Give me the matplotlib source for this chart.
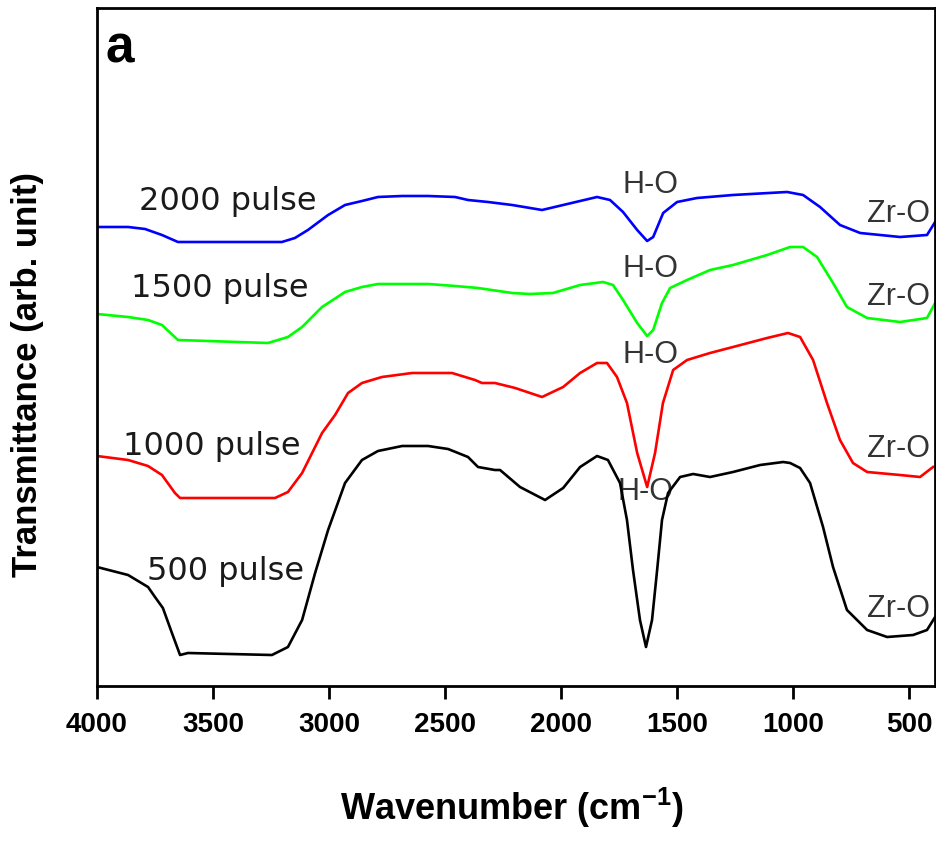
import matplotlib
matplotlib.use("Agg")
import matplotlib.pyplot as plt

plt.rcParams['font.family'] = ['Liberation Sans', 'DejaVu Sans']
plt.rcParams['mathtext.fontset'] = 'custom'
plt.rcParams['mathtext.rm'] = 'Liberation Sans'
plt.rcParams['mathtext.bf'] = 'Liberation Sans:bold'

# Wavenumber (cm-1) and transmittance (arb. units, vertically offset) per sample
wn_500 = [4000, 3866, 3780, 3750, 3716, 3677, 3642, 3608, 3246, 3177, 3116, 3060, 3004,
          2931, 2858, 2789, 2685, 2573, 2487, 2401, 2358, 2285, 2263, 2177, 2069, 1991,
          1918, 1845, 1798, 1746, 1716, 1690, 1660, 1634, 1608, 1586, 1565, 1539, 1487,
          1431, 1358, 1259, 1142, 1043, 1013, 970, 927, 871, 828, 768, 681, 595, 483, 423, 388]
t_500 = [119, 111, 99, 89, 78, 53, 31, 33, 31, 39, 66, 113, 156,
         203, 226, 235, 240, 240, 237, 229, 219, 216, 216, 199, 186, 198,
         219, 230, 226, 203, 166, 116, 66, 39, 66, 116, 166, 193, 209,
         212, 209, 214, 221, 224, 223, 218, 203, 159, 119, 76, 56, 49, 51, 56, 69]

wn_1000 = [4000, 3866, 3780, 3720, 3664, 3642, 3233, 3177, 3116, 3030, 2974, 2918, 2858,
           2772, 2642, 2470, 2371, 2341, 2285, 2198, 2082, 1991, 1918, 1845, 1802, 1759,
           1716, 1672, 1629, 1595, 1561, 1517, 1457, 1358, 1259, 1112, 1022, 970, 914,
           854, 798, 742, 681, 539, 453, 397]
t_1000 = [230, 226, 220, 211, 193, 188, 188, 194, 213, 253, 271, 293, 303,
          309, 313, 313, 306, 303, 303, 298, 289, 299, 313, 323, 323, 309,
          283, 233, 199, 233, 283, 316, 326, 333, 339, 348, 353, 349, 326,
          283, 246, 223, 214, 211, 209, 219]

wn_1500 = [4000, 3866, 3780, 3720, 3651, 3263, 3177, 3116, 3030, 2931, 2858, 2789, 2573,
           2457, 2358, 2211, 2134, 2035, 1918, 1819, 1776, 1733, 1672, 1629, 1603, 1565,
           1530, 1457, 1358, 1259, 1112, 1013, 957, 897, 828, 768, 681, 539, 423, 388]
t_1500 = [372, 369, 366, 361, 346, 343, 349, 359, 379, 394, 399, 402, 402,
          400, 398, 393, 392, 393, 401, 404, 401, 386, 363, 350, 356, 383,
          398, 406, 416, 421, 431, 439, 439, 429, 403, 379, 368, 364, 368, 383]

wn_2000 = [4000, 3866, 3793, 3720, 3651, 3203, 3147, 3091, 3004, 2931, 2858, 2789, 2685,
           2573, 2457, 2401, 2315, 2211, 2082, 1991, 1845, 1789, 1733, 1672, 1629, 1603,
           1560, 1500, 1414, 1259, 1026, 957, 884, 798, 711, 539, 423, 388]
t_2000 = [459, 459, 457, 451, 444, 444, 448, 456, 471, 481, 485, 489, 490,
          490, 489, 486, 484, 481, 476, 481, 489, 486, 474, 456, 445, 449,
          473, 484, 488, 491, 494, 491, 479, 461, 453, 449, 451, 464]

series_labels = ['500 pulse', '1000 pulse', '1500 pulse', '2000 pulse']
series_colors = ['black', '#ff0000', '#00ff00', '#0000ff']
label_x = [3448, 3504, 3470, 3435]
label_y = [106, 231, 389, 476]
ho_x = [1638, 1616, 1616, 1616]
ho_y = [186, 323, 409, 493]
zro_y = [69, 229, 381, 464]

fig = plt.figure(figsize=(9.37, 8.41), dpi=100)
ax = fig.add_axes([0.1035, 0.1843, 0.8945, 0.8062])

for wn, t, c in zip([wn_500, wn_1000, wn_1500, wn_2000],
                    [t_500, t_1000, t_1500, t_2000], series_colors):
    ax.plot(wn, t, color=c, lw=1.9, solid_joinstyle='round', zorder=2)

ax.set_xlim(4000, 388)
ax.set_ylim(0, 678)
ax.set_xticks([4000, 3500, 3000, 2500, 2000, 1500, 1000, 500])
ax.set_yticks([])
ax.tick_params(axis='x', direction='out', length=9, width=2, labelsize=20, pad=10)
for lab in ax.get_xticklabels():
    lab.set_fontweight('bold')
for s in ax.spines.values():
    s.set_linewidth(2)

ax.set_xlabel('Wavenumber (cm$^{\\mathbf{-1}}$)', fontsize=26, fontweight='bold')
ax.xaxis.label.set_va('baseline')
ax.xaxis.set_label_coords(0.495, -0.1976)
ax.set_ylabel('Transmittance (arb. unit)', fontsize=25, fontweight='bold')
ax.yaxis.set_label_coords(-0.063, 0.4587)

for name, x, y in zip(series_labels, label_x, label_y):
    ax.text(x, y, name, fontsize=23, ha='center', va='baseline', color='#1a1a1a',
            family='DejaVu Sans', zorder=1)

for x, y in zip(ho_x, ho_y):
    ax.text(x, y, 'H-O', fontsize=22, ha='center', va='baseline', color='#333333', zorder=1)
for y in zro_y:
    ax.text(547, y, 'Zr-O', fontsize=22, ha='center', va='baseline', color='#333333', zorder=1)

ax.text(0.010, 0.919, 'a', transform=ax.transAxes, fontsize=37, fontweight='bold',
        ha='left', va='baseline')

fig.savefig('out.png', dpi=100)
